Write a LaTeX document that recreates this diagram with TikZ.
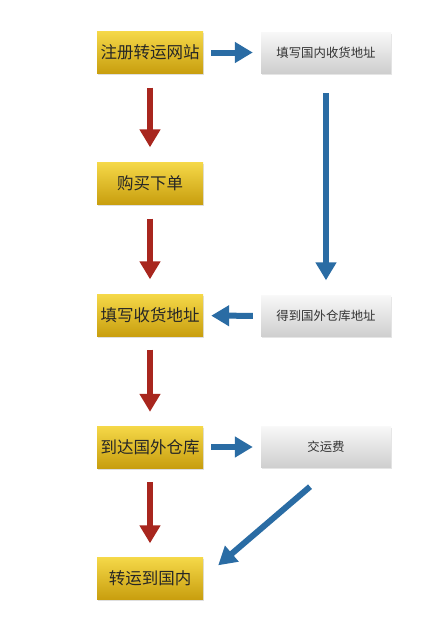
\documentclass[tikz,border=0pt]{standalone}
\usepackage{fontspec}
\setmainfont{Noto Sans CJK SC}
\usetikzlibrary{arrows.meta,shadows,calc}

\definecolor{goldtop}{RGB}{245,216,72}
\definecolor{goldbot}{RGB}{200,158,14}
\definecolor{greytop}{RGB}{248,248,248}
\definecolor{greybot}{RGB}{206,206,206}
\definecolor{flowred}{RGB}{168,38,30}
\definecolor{flowblue}{RGB}{42,108,164}

\tikzset{
  stepgold/.style={minimum width=106pt,minimum height=42pt,inner sep=0pt,
    top color=goldtop,bottom color=goldbot,font=\fontsize{16.5}{17}\selectfont,
    text=black!85,drop shadow={shadow xshift=1pt,shadow yshift=-1.5pt,opacity=0.25}},
  stepgrey/.style={minimum width=130pt,minimum height=41pt,inner sep=0pt,
    top color=greytop,bottom color=greybot,font=\fontsize{12.4}{13}\selectfont,
    text=black!80,drop shadow={shadow xshift=1pt,shadow yshift=-1.5pt,opacity=0.2}},
  redflow/.style={draw=flowred,line width=6.5pt,-{Triangle[width=20pt,length=18pt]}},
  blueflow/.style={draw=flowblue,line width=6pt,-{Triangle[width=20pt,length=18pt]}}
}

\begin{document}
\begin{tikzpicture}[x=1pt,y=-1pt]
\useasboundingbox[fill=white] (0,0) rectangle (422,635);
% main steps
\node[stepgold] (reg)  at (150,52.5)  {注册转运网站};
\node[stepgold] (buy)  at (150,183.5) {购买下单};
\node[stepgold] (fill) at (150,315.5) {填写收货地址};
\node[stepgold] (ware) at (150,447)   {到达国外仓库};
\node[stepgold] (ship) at (150,578.5) {转运到国内};
% side steps
\node[stepgrey] (home) at (326,52.5) {填写国内收货地址};
\node[stepgrey] (addr) at (326,316)  {得到国外仓库地址};
\node[stepgrey] (fee)  at (326,447)  {交运费};

\draw[redflow,shorten <=14pt,shorten >=15pt] (reg) -- (buy);
\draw[redflow,shorten <=14pt,shorten >=15pt] (buy) -- (fill);
\draw[redflow,shorten <=13pt,shorten >=14pt] (fill) -- (ware);
\draw[redflow,shorten <=14pt,shorten >=14pt] (ware) -- (ship);

\draw[blueflow,shorten <=8pt,shorten >=8pt] (reg) -- (home);
\draw[blueflow,shorten <=20pt,shorten >=15pt] (home) -- (addr);
\draw[blueflow,shorten <=8pt,shorten >=8pt] (addr) -- (fill);
\draw[blueflow,shorten <=8pt,shorten >=8pt] (ware) -- (fee);
\coordinate (feeout) at ($(fee.south)+(-16,19)$);
\coordinate (shipin) at ($(ship.north east)+(15,8)$);
\draw[blueflow] (feeout) -- (shipin);
\end{tikzpicture}
\end{document}
